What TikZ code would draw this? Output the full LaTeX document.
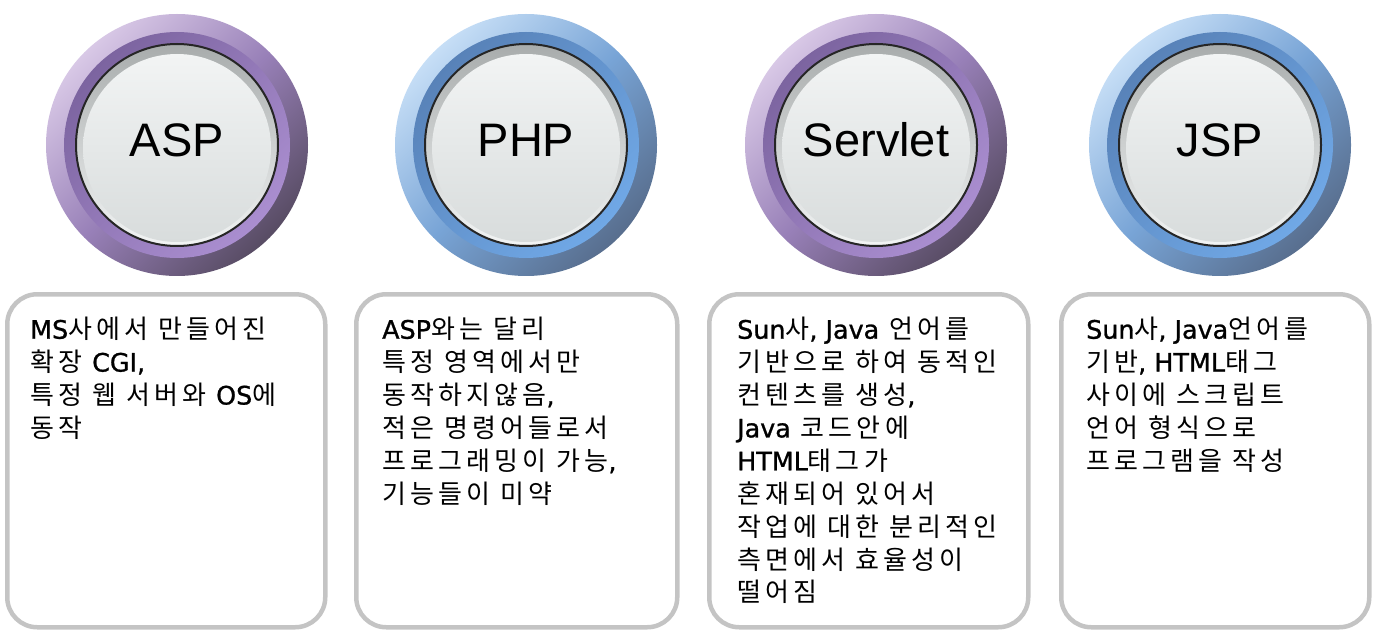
\documentclass[tikz,border=0pt]{standalone}
\usepackage{fontspec}
\usepackage{xcolor}
\newfontfamily\kofont{Noto Sans CJK KR}[LetterSpace=16]
\newfontfamily\enfont{DejaVu Sans}[FakeBold=1]
\newfontfamily\btnfont{Liberation Sans}
\newcommand\entxt[1]{{\enfont\fontsize{25.4}{32.9}\selectfont #1}}

\begin{document}
\begin{tikzpicture}[x=1pt,y=-1pt,
  outerring/.style={circle,minimum size=262,inner sep=0},
  innerring/.style={circle,minimum size=226,inner sep=0},
  mybutton/.style={circle,minimum size=202,inner sep=0,draw=black!85,line width=2,top color=btnrim,bottom color=btnlight},
  btnface/.style={circle,minimum size=188,inner sep=0,top color=btnlight,bottom color=btnshade},
  btnlabel/.style={inner sep=0,font=\btnfont\fontsize{47}{47}\selectfont},
  mybox/.style={draw=boxgray,line width=4.5,rounded corners=30,minimum height=333,inner sep=0,anchor=north west},
  mytext/.style={anchor=north west,inner sep=0,align=left,font=\kofont\fontsize{26}{32.9}\selectfont}]
\definecolor{purlight}{HTML}{D8C8E6}
\definecolor{purmid}{HTML}{9880B8}
\definecolor{purdark}{HTML}{584C64}
\definecolor{purringtop}{HTML}{7C64A0}
\definecolor{purringbot}{HTML}{AA8ED0}
\definecolor{blulight}{HTML}{C6DEF6}
\definecolor{blumid}{HTML}{78A4D6}
\definecolor{bludark}{HTML}{586E8E}
\definecolor{bluringtop}{HTML}{5882B8}
\definecolor{bluringbot}{HTML}{70A8E6}
\definecolor{btnrim}{HTML}{A8ACAC}
\definecolor{btnlight}{HTML}{F2F4F4}
\definecolor{btnshade}{HTML}{D8DCDC}
\definecolor{boxgray}{HTML}{C4C4C4}
\useasboundingbox (0,0) rectangle (1394,644);
% buttons
  \foreach \lbl/\cx/\clr in {ASP/177/pur,PHP/526/blu,Servlet/876/pur,JSP/1220/blu}
  {  \node [outerring,top color=\clr light,bottom color=\clr dark,middle color=\clr mid,shading angle=45] (outer\lbl) at (\cx,145) {};
     \node [innerring,top color=\clr ringtop,bottom color=\clr ringbot,shading angle=45] (ring\lbl) at (\cx,145) {};
     \node [mybutton] (btn\lbl) at (\cx,145) {};
     \node [btnface] (face\lbl) at (\cx,148) {};
     \node [btnlabel] (lbl\lbl) at (\cx,140) {\lbl};}
% boxes
\node [mybox,minimum width=318] (boxASP) at (5,292) {};
\node [mybox,minimum width=321] (boxPHP) at (354,292) {};
\node [mybox,minimum width=319] (boxServlet) at (707,292) {};
\node [mybox,minimum width=308] (boxJSP) at (1059,292) {};
% texts
\node [mytext] (txtASP) at (30,317) {\entxt{MS}사에서 만들어진\\확장 \entxt{CGI,}\\특정 웹 서버와 \entxt{OS}에\\동작};
\node [mytext] (txtPHP) at (382,317) {\entxt{ASP}와는 달리\\특정 영역에서만\\동작하지않음\entxt{,}\\적은 명령어들로서\\프로그래밍이 가능\entxt{,}\\기능들이 미약};
\node [mytext] (txtServlet) at (737,317) {\entxt{Sun}사\entxt{, Java} 언어를\\기반으로 하여 동적인\\컨텐츠를 생성\entxt{,}\\\entxt{Java} 코드안에\\\entxt{HTML}태그가\\혼재되어 있어서\\작업에 대한 분리적인\\측면에서 효율성이\\떨어짐};
\node [mytext] (txtJSP) at (1086,317) {\entxt{Sun}사\entxt{, Java}언어를\\기반\entxt{, HTML}태그\\사이에 스크립트\\언어 형식으로\\프로그램을 작성};
\end{tikzpicture}
\end{document}
